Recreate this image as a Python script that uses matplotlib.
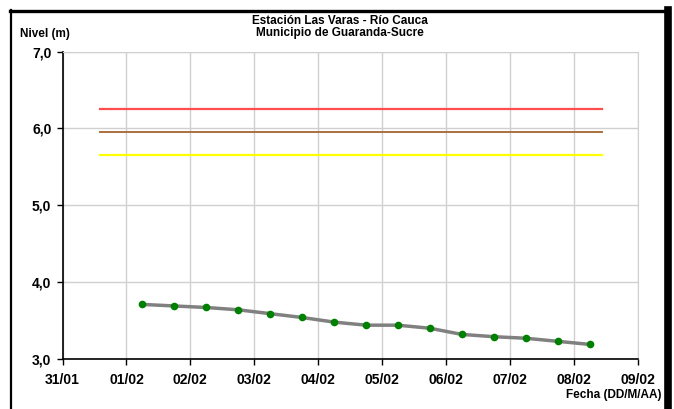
import matplotlib
matplotlib.use("Agg")
import matplotlib.pyplot as plt
import matplotlib.dates as mdates
from matplotlib.lines import Line2D
import pandas as pd

# ---- data ----
fechas = pd.to_datetime([
    "2000-02-01 06:00", "2000-02-01 18:00", "2000-02-02 06:00", "2000-02-02 18:00",
    "2000-02-03 06:00", "2000-02-03 18:00", "2000-02-04 06:00", "2000-02-04 18:00",
    "2000-02-05 06:00", "2000-02-05 18:00", "2000-02-06 06:00", "2000-02-06 18:00",
    "2000-02-07 06:00", "2000-02-07 18:00", "2000-02-08 06:00",
])
nivel = [3.71, 3.69, 3.67, 3.64, 3.59, 3.54, 3.48, 3.44, 3.44, 3.40,
         3.32, 3.29, 3.27, 3.23, 3.19]

umbral_fechas = pd.to_datetime(["2000-01-31 14:00", "2000-02-08 10:30"])
umbral_rojo = 6.25
umbral_cafe = 5.95
umbral_amarillo = 5.66

x_ticks = pd.date_range("2000-01-31", "2000-02-09", freq="D")
y_ticks = [3.0, 4.0, 5.0, 6.0, 7.0]
y_labels = ["3,0", "4,0", "5,0", "6,0", "7,0"]

titulo = "Estación Las Varas - Río Cauca\nMunicipio de Guaranda-Sucre"

# ---- figure ----
plt.rcParams['font.family'] = ['Liberation Sans', 'DejaVu Sans']
fig = plt.figure(figsize=(6.74, 4.09), dpi=100)
W, H = 674, 409
ax = fig.add_axes([62.5 / W, 1 - 359 / H, (637.5 - 62.5) / W, (359 - 51.5) / H])

ax.plot(umbral_fechas, [umbral_rojo] * 2, color="#FF4D4D", lw=1.6, zorder=3)
ax.plot(umbral_fechas, [umbral_cafe] * 2, color="#A8703C", lw=1.4, zorder=3)
ax.plot(umbral_fechas, [umbral_amarillo] * 2, color="#FFFF00", lw=1.6, zorder=3)

ax.plot(fechas, nivel, color="#808080", lw=2.5, zorder=4)
ax.plot(fechas, nivel, linestyle="none", marker="o", ms=4.5,
        color="#008000", markeredgecolor="#008000", zorder=5)

ax.set_xlim(x_ticks[0], x_ticks[-1])
ax.set_ylim(3.0, 7.0)
ax.set_xticks(x_ticks)
ax.xaxis.set_major_formatter(mdates.DateFormatter("%d/%m"))
ax.set_yticks(y_ticks)
ax.set_yticklabels(y_labels)

for lab in ax.get_xticklabels() + ax.get_yticklabels():
    lab.set_fontweight("bold")
    lab.set_fontsize(10)

ax.grid(True, color="#D0D0D0", lw=1)
ax.set_axisbelow(True)
for s in ["top", "right"]:
    ax.spines[s].set_color("#D0D0D0")
for s in ["left", "bottom"]:
    ax.spines[s].set_color("black")
    ax.spines[s].set_linewidth(1.2)
ax.tick_params(axis="both", direction="out", length=4, width=1, color="black", pad=4)
ax.tick_params(axis="x", pad=6)

fig.text(340 / W, 1 - 27 / H, titulo, ha="center", va="center",
         fontsize=8.5, fontweight="bold", linespacing=1.05)
fig.text(20 / W, 1 - 34 / H, "Nivel (m)", ha="left", va="center",
         fontsize=8.5, fontweight="bold")
fig.text(661 / W, 1 - 395 / H, "Fecha (DD/M/AA)", ha="right", va="center",
         fontsize=8.5, fontweight="bold")

# outer frame
fig.add_artist(Line2D([11 / W, 11 / W], [0, 1 - 10 / H], transform=fig.transFigure,
                      color="black", lw=1.6))
fig.add_artist(Line2D([10 / W, 666 / W], [1 - 10.5 / H, 1 - 10.5 / H],
                      transform=fig.transFigure, color="black", lw=2.4))
fig.add_artist(Line2D([668 / W, 668 / W], [0, 1 - 10 / H], transform=fig.transFigure,
                      color="black", lw=5.5))

fig.savefig("out.png", dpi=100)
